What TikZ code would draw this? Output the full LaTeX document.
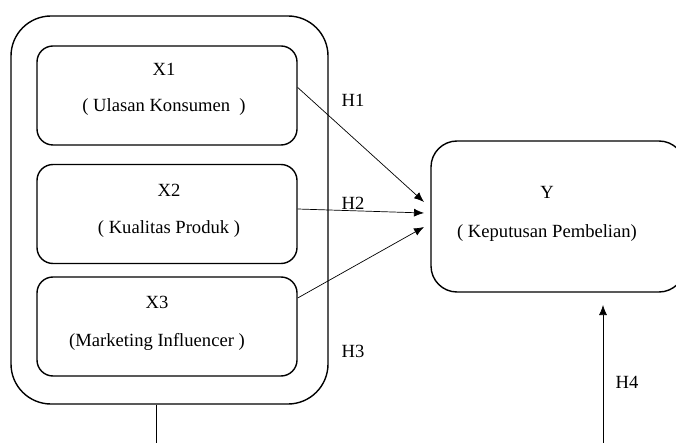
\documentclass[tikz,border=0pt]{standalone}
\usepackage{fontspec}
\setmainfont{Liberation Serif}
\usetikzlibrary{arrows.meta,positioning}
\tikzset{
  varbox/.style={draw,line width=1.4pt,rounded corners=16pt,minimum width=260pt,minimum height=99pt},
  hyp/.style={-{Latex[length=10pt,width=8pt]},line width=0.7pt},
  lbl/.style={font=\fontsize{18.6}{22}\selectfont}
}
\begin{document}
\begin{tikzpicture}[x=1pt,y=-1pt]
  \useasboundingbox (0,0) rectangle (676,443);
  % kelompok variabel bebas
  \node[draw,line width=1.4pt,rounded corners=40pt,minimum width=317pt,minimum height=388pt] (grp) at (169.5,210) {};
  \node[varbox] (x1) at (167,95.5) {};
  \node[varbox] (x2) at (167,214) {};
  \node[varbox] (x3) at (167,326.5) {};
  \node[lbl] (x1a) at (164,69) {X1};
  \node[lbl] (x1b) at (164,107) {( Ulasan Konsumen~ )};
  \node[lbl] (x2a) at (169,190) {X2};
  \node[lbl] (x2b) at (169,229) {( Kualitas Produk )};
  \node[lbl] (x3a) at (157,302) {X3};
  \node[lbl] (x3b) at (157,342) {(Marketing Influencer )};
  % variabel terikat
  \node[draw,line width=1.4pt,rounded corners=26pt,minimum width=254pt,minimum height=151pt] (y) at (558,216.5) {};
  \node[lbl] (ya) at (547,192) {Y};
  \node[lbl] (yb) at (547,233) {( Keputusan Pembelian)};
  % ujung panah
  \coordinate (t1) at (424,202);
  \coordinate (t2) at (424,213);
  \coordinate (t3) at (424,227);
  \coordinate (b1) at (156,443);
  \coordinate (b4) at (603,443);
  \coordinate (t4) at (603,305);
  \draw[hyp] ([yshift=8pt]x1.east) -- (t1);
  \draw[hyp] ([yshift=5pt]x2.east) -- (t2);
  \draw[hyp] ([yshift=28.5pt]x3.east) -- (t3);
  \draw[line width=1pt] (grp.south -| b1) -- (b1);
  \draw[hyp] (b4) -- (t4);
  \node[lbl] (h1) at (353,100) {H1};
  \node[lbl] (h2) at (353,203) {H2};
  \node[lbl] (h3) at (353,351) {H3};
  \node[lbl] (h4) at (627,382) {H4};
\end{tikzpicture}
\end{document}
